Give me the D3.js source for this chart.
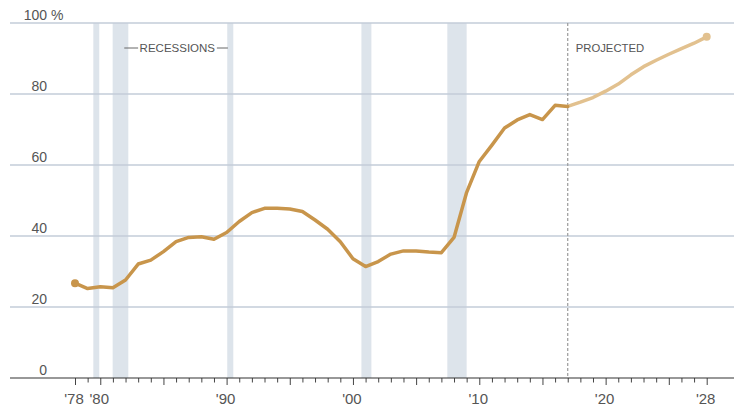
<!DOCTYPE html>
<html>
<head>
<meta charset="utf-8">
<script src="https://cdn.jsdelivr.net/npm/d3@7"></script>
<style>
  html, body { margin: 0; padding: 0; background: #fff; }
  svg { display: block; font-family: "Liberation Sans", Arial, sans-serif; }
</style>
</head>
<body>
<svg id="chart" width="739" height="406"></svg>
<script>
// ---- data ----
const actualYears = d3.range(1978, 2018);
const actualValues = [26.7, 25.2, 25.7, 25.4, 27.6, 32.1, 33.2, 35.6, 38.4, 39.6,
                      39.8, 39.1, 41.0, 44.1, 46.6, 47.8, 47.8, 47.6, 46.9, 44.5,
                      41.9, 38.4, 33.6, 31.4, 32.8, 34.9, 35.8, 35.8, 35.5, 35.3,
                      39.6, 52.3, 61.0, 65.6, 70.4, 72.7, 74.2, 72.8, 76.8, 76.5];
const projectedYears = d3.range(2017, 2029);
const projectedValues = [76.5, 77.7, 79.0, 80.8, 82.8, 85.4, 87.7, 89.5, 91.2, 92.8, 94.3, 96.1];
const recessionStarts = [1979.45, 1980.98, 1990.05, 2000.67, 2007.47];
const recessionEnds   = [1979.92, 1982.22, 1990.53, 2001.46, 2009.00];
const projectionStart = 2017;
const yTicks = [0, 20, 40, 60, 80, 100];
const xLabelYears = [1978, 1980, 1990, 2000, 2010, 2020, 2028];
const xLabels = ["'78", "'80", "'90", "'00", "'10", "'20", "'28"];

// ---- layout ----
const svg = d3.select("#chart");
const x = d3.scaleLinear().domain([1978, 2028]).range([75, 706.7]);
const y = d3.scaleLinear().domain([0, 100]).range([378, 23]);
const left = 10, right = 734;

// recession bars
svg.append("g").selectAll("rect")
  .data(recessionStarts.map((s, i) => [s, recessionEnds[i]]))
  .join("rect")
  .attr("x", d => x(d[0]))
  .attr("width", d => x(d[1]) - x(d[0]))
  .attr("y", y(100))
  .attr("height", y(0) - y(100))
  .attr("fill", "#dde4eb");

// gridlines
svg.append("g").selectAll("line")
  .data(yTicks.filter(v => v > 0))
  .join("line")
  .attr("x1", left).attr("x2", right)
  .attr("y1", d => y(d)).attr("y2", d => y(d))
  .attr("stroke", "#c3cdd8").attr("stroke-width", 1.3);

// y labels
svg.append("g").selectAll("text")
  .data(yTicks)
  .join("text")
  .attr("x", 47)
  .attr("y", d => y(d) - 3.5)
  .attr("font-size", 14)
  .attr("fill", "#555")
  .attr("text-anchor", "end")
  .text(d => d);
svg.append("text")
  .attr("x", 47).attr("y", y(100) - 3.5)
  .attr("font-size", 14).attr("fill", "#555")
  .text("\u00a0%");

// x axis
const xAxis = d3.axisBottom(x)
  .tickValues(d3.range(1978, 2029))
  .tickSize(5)
  .tickFormat("");
const gx = svg.append("g").attr("transform", `translate(0,${y(0)})`).call(xAxis);
gx.select(".domain").remove();
gx.selectAll(".tick line")
  .attr("stroke", "#444")
  .attr("y2", d => (d % 5 === 0 || d === 1978 || d === 2028) ? 7 : 4.5);
svg.append("line")
  .attr("x1", left).attr("x2", right)
  .attr("y1", y(0)).attr("y2", y(0))
  .attr("stroke", "#333").attr("stroke-width", 1.2);

svg.append("g").selectAll("text")
  .data(xLabelYears)
  .join("text")
  .attr("x", (d, i) => x(d) - 1)
  .attr("y", 404)
  .attr("text-anchor", "middle")
  .attr("font-size", 15)
  .attr("fill", "#555")
  .text((d, i) => xLabels[i]);

// projected divider
svg.append("line")
  .attr("x1", x(projectionStart)).attr("x2", x(projectionStart))
  .attr("y1", y(100)).attr("y2", y(0))
  .attr("stroke", "#9a9a9a").attr("stroke-width", 1.2)
  .attr("stroke-dasharray", "3,2");

svg.append("text")
  .attr("x", x(projectionStart) + 8).attr("y", y(100) + 29)
  .attr("font-size", 11.3).attr("fill", "#555")
  .text("PROJECTED");

// recessions annotation
const recY = y(100) + 25;
const recText = svg.append("text")
  .attr("x", x(1986.1)).attr("y", recY + 4)
  .attr("text-anchor", "middle")
  .attr("font-size", 11.5).attr("fill", "#555")
  .text("RECESSIONS");
const bb = recText.node().getBBox();
svg.append("line")
  .attr("x1", x(1981.9)).attr("x2", bb.x - 1.5)
  .attr("y1", recY).attr("y2", recY)
  .attr("stroke", "#666").attr("stroke-width", 1);
svg.append("line")
  .attr("x1", bb.x + bb.width + 1.5).attr("x2", x(1990.1))
  .attr("y1", recY).attr("y2", recY)
  .attr("stroke", "#666").attr("stroke-width", 1);

// lines
const line = d3.line().x(d => x(d[0])).y(d => y(d[1])).curve(d3.curveLinear);
const actual = actualYears.map((yr, i) => [yr, actualValues[i]]);
const projected = projectedYears.map((yr, i) => [yr, projectedValues[i]]);

svg.append("path").datum(projected)
  .attr("d", line)
  .attr("fill", "none").attr("stroke", "#e2c18f")
  .attr("stroke-width", 3.5).attr("stroke-linejoin", "round").attr("stroke-linecap", "round");
svg.append("path").datum(actual)
  .attr("d", line)
  .attr("fill", "none").attr("stroke", "#c8954b")
  .attr("stroke-width", 3.5).attr("stroke-linejoin", "round").attr("stroke-linecap", "round");

svg.append("circle")
  .attr("cx", x(actual[0][0])).attr("cy", y(actual[0][1]))
  .attr("r", 4).attr("fill", "#c8954b");
svg.append("circle")
  .attr("cx", x(projected[projected.length - 1][0])).attr("cy", y(projected[projected.length - 1][1]))
  .attr("r", 4).attr("fill", "#e2c18f");
</script>
</body>
</html>
